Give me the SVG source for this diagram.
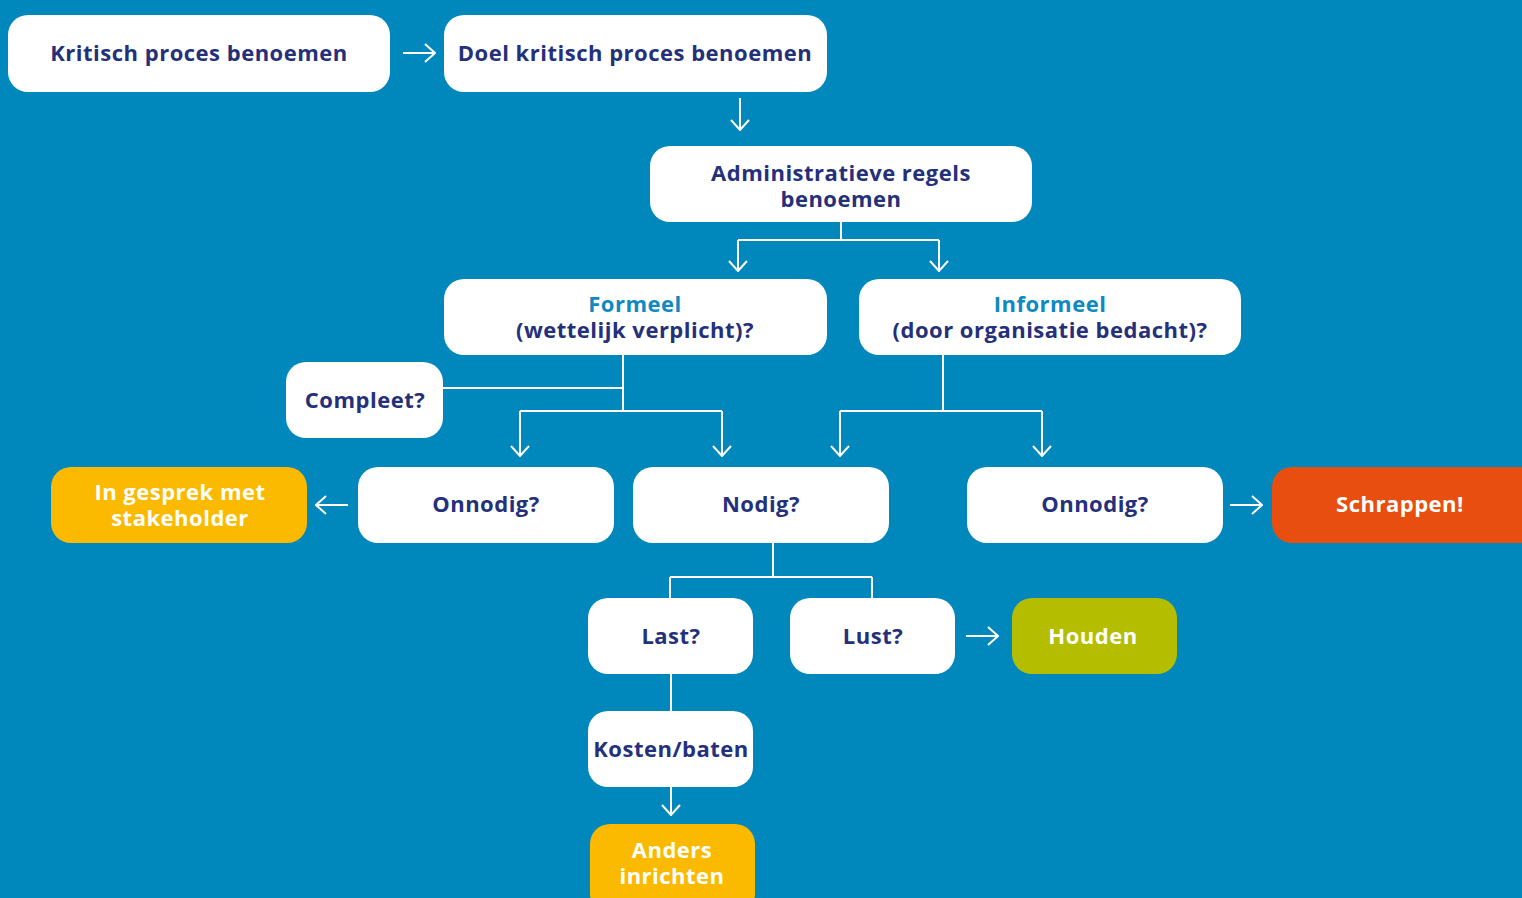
<svg xmlns="http://www.w3.org/2000/svg" width="1522" height="898" viewBox="0 0 1522 898">
<defs>
<style>
.n{fill:#fff}
.y{fill:#FBBA00}
.o{fill:#E84E0F}
.g{fill:#B5BD00}
text{font-family:"Open Sans","Noto Sans","DejaVu Sans",sans-serif;font-weight:700;font-size:22px;letter-spacing:0.5px;text-anchor:middle}
.t{fill:#25307B}
.w{fill:#fff}
.b{fill:#0F89C1}
.c{fill:none;stroke:#fff;stroke-width:2}
</style>
<marker id="a" viewBox="0 0 12 20" refX="11" refY="10" markerWidth="12" markerHeight="20" markerUnits="userSpaceOnUse" orient="auto">
<path d="M1 1 L11 10 L1 19" fill="none" stroke="#fff" stroke-width="2"/>
</marker>
</defs>
<rect width="1522" height="898" fill="#0088BC"/>
<g id="connectors" class="c">
<path d="M403 53 H435" marker-end="url(#a)"/>
<path d="M740 98 V130" marker-end="url(#a)"/>
<path d="M841 222 V240 M738 240 H939"/>
<path d="M738 240 V271" marker-end="url(#a)"/>
<path d="M939 240 V271" marker-end="url(#a)"/>
<path d="M623 355 V411 M443 388 H623 M520 411 H722"/>
<path d="M520 411 V456" marker-end="url(#a)"/>
<path d="M722 411 V456" marker-end="url(#a)"/>
<path d="M943 355 V411 M840 411 H1042"/>
<path d="M840 411 V456" marker-end="url(#a)"/>
<path d="M1042 411 V456" marker-end="url(#a)"/>
<path d="M348 505 H316" marker-end="url(#a)"/>
<path d="M1230 505 H1262" marker-end="url(#a)"/>
<path d="M773 543 V577 M670 577 H872 M670 577 V598 M872 577 V598"/>
<path d="M966 636 H998" marker-end="url(#a)"/>
<path d="M671 674 V711"/>
<path d="M671 787 V815" marker-end="url(#a)"/>
</g>
<g id="n1"><rect class="n" x="8" y="15" width="382" height="77" rx="20"/><text class="t" x="199" y="61">Kritisch proces benoemen</text></g>
<g id="n2"><rect class="n" x="444" y="15" width="383" height="77" rx="20"/><text class="t" x="635" y="61">Doel kritisch proces benoemen</text></g>
<g id="n3"><rect class="n" x="650" y="146" width="382" height="76" rx="20"/><text class="t" x="841" y="181">Administratieve regels</text><text class="t" x="841" y="207">benoemen</text></g>
<g id="n4"><rect class="n" x="444" y="279" width="383" height="76" rx="20"/><text class="b" x="635" y="312">Formeel</text><text class="t" x="635" y="338">(wettelijk verplicht)?</text></g>
<g id="n5"><rect class="n" x="859" y="279" width="382" height="76" rx="20"/><text class="b" x="1050" y="312">Informeel</text><text class="t" x="1050" y="338">(door organisatie bedacht)?</text></g>
<g id="n6"><rect class="n" x="286" y="362" width="157" height="76" rx="20"/><text class="t" x="365" y="408">Compleet?</text></g>
<g id="n7"><rect class="y" x="51" y="467" width="256" height="76" rx="20"/><text class="w" x="180" y="500">In gesprek met</text><text class="w" x="180" y="526">stakeholder</text></g>
<g id="n8"><rect class="n" x="358" y="467" width="256" height="76" rx="20"/><text class="t" x="486" y="512">Onnodig?</text></g>
<g id="n9"><rect class="n" x="633" y="467" width="256" height="76" rx="20"/><text class="t" x="761" y="512">Nodig?</text></g>
<g id="n10"><rect class="n" x="967" y="467" width="256" height="76" rx="20"/><text class="t" x="1095" y="512">Onnodig?</text></g>
<g id="n11"><rect class="o" x="1272" y="467" width="270" height="76" rx="20"/><text class="w" x="1400" y="512">Schrappen!</text></g>
<g id="n12"><rect class="n" x="588" y="598" width="165" height="76" rx="20"/><text class="t" x="671" y="644">Last?</text></g>
<g id="n13"><rect class="n" x="790" y="598" width="165" height="76" rx="20"/><text class="t" x="873" y="644">Lust?</text></g>
<g id="n14"><rect class="g" x="1012" y="598" width="165" height="76" rx="20"/><text class="w" x="1093" y="644">Houden</text></g>
<g id="n15"><rect class="n" x="588" y="711" width="165" height="76" rx="20"/><text class="t" x="671" y="757">Kosten/baten</text></g>
<g id="n16"><rect class="y" x="590" y="824" width="165" height="90" rx="20"/><text class="w" x="672" y="858">Anders</text><text class="w" x="672" y="884">inrichten</text></g>
</svg>
